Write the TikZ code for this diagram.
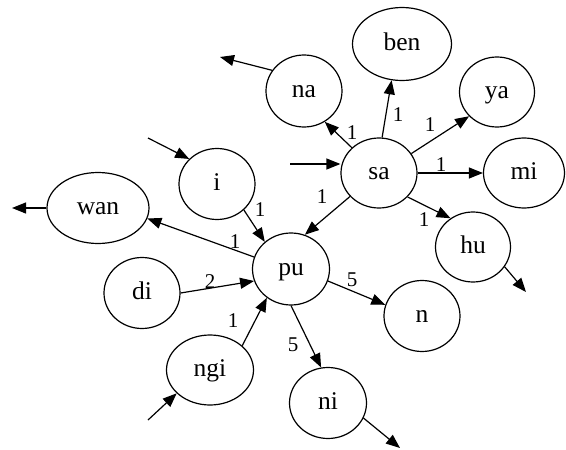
\documentclass[tikz,border=0pt]{standalone}
\usepackage{fontspec}
\setmainfont{Liberation Serif}
\usetikzlibrary{shapes.geometric,arrows.meta}

\tikzset{
  state/.style={ellipse, draw, line width=1.2pt, inner sep=0pt,
    minimum width=76pt, minimum height=71pt,
    font=\fontsize{25.5}{29}\selectfont, text height=17.5pt, text depth=4.5pt},
  link/.style={line width=1.2pt, -{Triangle[length=14pt,width=11pt]}},
  wlabel/.style={font=\fontsize{21}{25}\selectfont, inner sep=0pt}
}

\begin{document}
\begin{tikzpicture}[x=1pt,y=-1pt]
\useasboundingbox (0,0) rectangle (566,450);

% word-part nodes
\node[state, minimum width=99pt, minimum height=73pt] (ben) at (402,44) {ben};
\node[state, minimum height=72pt] (na)  at (304,91)  {na};
\node[state, minimum width=75pt, minimum height=70pt] (ya) at (497,92) {ya};
\node[state, minimum height=70pt] (sa)  at (379,173) {sa};
\node[state, minimum width=81pt, minimum height=70pt] (mi) at (524,173) {mi};
\node[state] (i)   at (217,184) {i};
\node[state, minimum width=102pt] (wan) at (98,208) {wan};
\node[state, minimum width=75pt, minimum height=70pt] (hu) at (473,247) {hu};
\node[state, minimum width=77pt, minimum height=72pt] (pu) at (291,269) {pu};
\node[state] (di)  at (142,293) {di};
\node[state] (n)   at (422,316) {n};
\node[state, minimum width=87pt, minimum height=70pt] (ngi) at (210,370) {ngi};
\node[state, minimum width=77pt] (ni) at (328,403) {ni};

% free ends of the entry and exit arrows
\coordinate (naout)  at (220,57);
\coordinate (sain)   at (290,164);
\coordinate (iin)    at (148,138);
\coordinate (wanout) at (12,208);
\coordinate (ngiin)  at (148,420);
\coordinate (niout)  at (400,448);
\coordinate (huout)  at (526,292);

% weighted transitions
\draw[link] (sa.137) -- (na.304)  node[wlabel] at (352,133) {1};
\draw[link] (sa.85)  -- (ben.254) node[wlabel] at (398,115) {1};
\draw[link] (sa.31)  -- (ya.221)  node[wlabel] at (430,125) {1};
\draw[link] (sa.0)   -- (mi.180)  node[wlabel] at (441,165) {1};
\draw[link] (sa.219) -- (pu.68)   node[wlabel] at (322,197) {1};
\draw[link] (sa.320) -- (hu.128)  node[wlabel] at (424,220) {1};
\draw[link] (i.316)  -- (pu.134)  node[wlabel] at (260,210) {1};
\draw[link] (pu.162) -- (wan.348) node[wlabel] at (235,242) {1};
\draw[link] (di.0)   -- (pu.198)  node[wlabel] at (210,282) {2};
\draw[link] (ngi.37) -- (pu.230)  node[wlabel] at (233,321) {1};
\draw[link] (pu.270) -- (ni.101)  node[wlabel] at (293,345) {5};
\draw[link] (pu.342) -- (n.163)   node[wlabel] at (352,280) {5};

% entry and exit arrows
\draw[link] (na.147)  -- (naout);
\draw[link] (sain)    -- (sain -| sa.west);
\draw[link] (iin)     -- (i.138);
\draw[link] (wan.west) -- (wanout);
\draw[link] (ngiin)   -- (ngi.215);
\draw[link] (ni.337)  -- (niout);
\draw[link] (hu.328)  -- (huout);
\end{tikzpicture}
\end{document}
